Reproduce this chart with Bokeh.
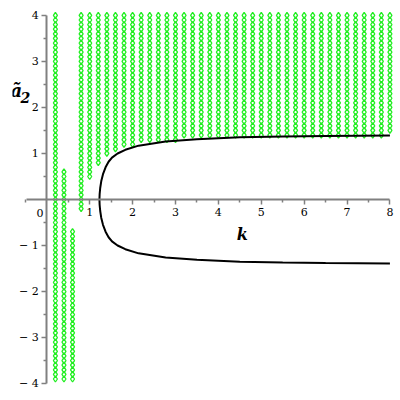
from bokeh.plotting import figure
from bokeh.models import FixedTicker, Label
from bokeh.embed import file_html
from bokeh.resources import INLINE

# ---- data ----
col_k  = [0.2, 0.4, 0.6, 0.8, 1.0, 1.2, 1.4, 1.6, 1.8, 2.0,
          2.2, 2.4, 2.6, 2.8, 3.0, 3.2, 3.4, 3.6, 3.8, 4.0,
          4.2, 4.4, 4.6, 4.8, 5.0, 5.2, 5.4, 5.6, 5.8, 6.0,
          6.2, 6.4, 6.6, 6.8, 7.0, 7.2, 7.4, 7.6, 7.8, 8.0]
col_lo = [-3.9, -3.9, -3.9, -0.2, 0.5, 0.8, 1.0, 1.1, 1.2, 1.2,
          1.3, 1.3, 1.3, 1.3, 1.3, 1.4, 1.4, 1.4, 1.4, 1.4,
          1.4, 1.4, 1.4, 1.4, 1.4, 1.4, 1.4, 1.4, 1.4, 1.4,
          1.4, 1.4, 1.4, 1.4, 1.4, 1.4, 1.4, 1.4, 1.4, 1.5]
col_hi = [4.0, 0.6, -0.7, 4.0, 4.0, 4.0, 4.0, 4.0, 4.0, 4.0,
          4.0, 4.0, 4.0, 4.0, 4.0, 4.0, 4.0, 4.0, 4.0, 4.0,
          4.0, 4.0, 4.0, 4.0, 4.0, 4.0, 4.0, 4.0, 4.0, 4.0,
          4.0, 4.0, 4.0, 4.0, 4.0, 4.0, 4.0, 4.0, 4.0, 4.0]
a_step = 0.1

curve_k = [1.227, 1.232, 1.245, 1.27, 1.31, 1.37, 1.44, 1.52, 1.65, 1.83,
           2.14, 2.77, 3.5, 4.5, 5.5, 6.5, 8.0]
curve_a = [0.0, 0.12, 0.25, 0.40, 0.55, 0.70, 0.82, 0.91, 1.00, 1.08,
           1.17, 1.26, 1.31, 1.35, 1.37, 1.38, 1.39]

x_ticks = [1, 2, 3, 4, 5, 6, 7, 8]
x_minor = [-0.5, 0.5, 1.5, 2.5, 3.5, 4.5, 5.5, 6.5, 7.5]
y_ticks = [-4, -3, -2, -1, 1, 2, 3, 4]
y_minor = [-3.5, -2.5, -1.5, -0.5, 0.5, 1.5, 2.5, 3.5]
y_labels = {-4: "\u2212 4", -3: "\u2212 3", -2: "\u2212 2", -1: "\u2212 1",
            1: "1", 2: "2", 3: "3", 4: "4"}

SERIF = "DejaVu Serif"

# ---- build dot grid from column ranges ----
dx, dy = [], []
for k, lo, hi in zip(col_k, col_lo, col_hi):
    n = int(round((hi - lo) / a_step))
    for i in range(n + 1):
        dx.append(k)
        dy.append(round(lo + i * a_step, 3))

p = figure(frame_width=386, frame_height=382,
           x_range=(-0.8, 8.2), y_range=(-4.15, 4.15),
           output_backend="svg", toolbar_location=None,
           min_border_left=12, min_border_right=2,
           min_border_top=8, min_border_bottom=2)
p.grid.visible = False
p.outline_line_color = None
p.background_fill_color = "white"

p.scatter(dx, dy, marker="diamond", size=6, fill_color=None,
          line_color="#22ee22", line_width=1.3)

lo_y = [-v for v in curve_a]
p.line(curve_k, curve_a, line_color="black", line_width=2)
p.line(curve_k, lo_y, line_color="black", line_width=2)

for ax in (p.xaxis[0], p.yaxis[0]):
    ax.fixed_location = 0
    ax.axis_line_color = "#808080"
    ax.axis_line_width = 2
    ax.major_tick_line_color = "#808080"
    ax.minor_tick_line_color = "#808080"
    ax.major_tick_line_width = 1.5
    ax.minor_tick_line_width = 1.5
    ax.major_tick_in = 0
    ax.major_tick_out = 5
    ax.minor_tick_in = 0
    ax.minor_tick_out = 3
    ax.major_label_text_font = SERIF
    ax.major_label_text_font_size = "11px"
    ax.major_label_text_color = "black"
    ax.major_label_standoff = 3

p.xaxis[0].ticker = FixedTicker(ticks=x_ticks, minor_ticks=x_minor)
p.yaxis[0].ticker = FixedTicker(ticks=y_ticks, minor_ticks=y_minor)
p.xaxis[0].bounds = (-0.48, 8)
p.yaxis[0].bounds = (-4, 4)
p.yaxis[0].major_label_overrides = y_labels
p.yaxis[0].major_label_orientation = "horizontal"

p.add_layout(Label(x=-0.16, y=-0.30, text="0", text_font=SERIF,
                   text_font_size="11px", text_align="center",
                   text_baseline="middle", text_color="black"))
p.add_layout(Label(x=4.56, y=-0.76, text="k", text_font=SERIF,
                   text_font_size="16px", text_font_style="bold italic",
                   text_align="center", text_baseline="middle", text_color="black"))
p.add_layout(Label(x=-0.71, y=2.36, text="\u00e3", text_font=SERIF,
                   text_font_size="18px", text_font_style="bold italic",
                   text_align="center", text_baseline="middle", text_color="black"))
p.add_layout(Label(x=-0.5, y=2.22, text="2", text_font=SERIF,
                   text_font_size="14px", text_font_style="bold italic",
                   text_align="center", text_baseline="middle", text_color="black"))

open("out.html", "w").write(file_html(p, INLINE))
